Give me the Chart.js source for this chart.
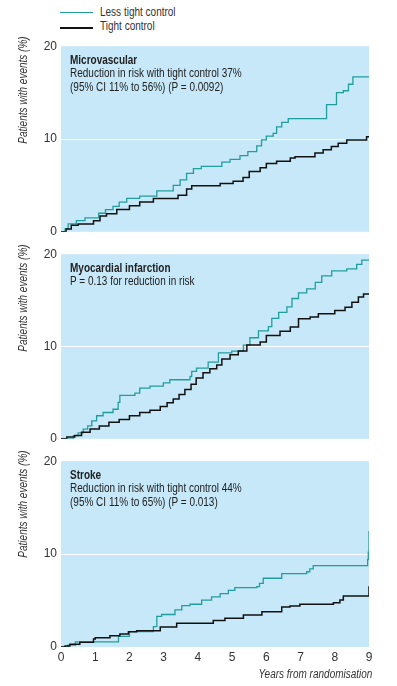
<!DOCTYPE html>
<html>
<head>
<meta charset="utf-8">
<script src="https://cdn.jsdelivr.net/npm/chart.js@4.4.1/dist/chart.umd.min.js"></script>
<style>
  html, body { margin:0; padding:0; background:#fff; }
  body { width:397px; height:686px; position:relative; overflow:hidden;
         font-family:"Liberation Sans",Arial,sans-serif; color:#222; }
  canvas { position:absolute; left:0; }
  .t { position:absolute; font-size:12.5px; line-height:13.4px; white-space:nowrap; color:#222;
       transform:scaleX(0.8); transform-origin:0 0; }
  .r { transform-origin:100% 0; }
  .b { font-weight:bold; }
  .yt { position:absolute; left:23px; font-size:12.5px; font-style:italic; white-space:nowrap; color:#333;
        transform:translate(-50%,-50%) rotate(-90deg) scaleX(0.8); }
  .lg { position:absolute; left:60px; width:33px; }
</style>
</head>
<body>
<div class="lg" style="top:12px;height:1.4px;background:#229d9d"></div>
<div class="t" style="left:100px;top:6px;color:#333">Less tight control</div>
<div class="lg" style="top:27px;height:1.6px;background:#111"></div>
<div class="t" style="left:100px;top:20px;color:#333">Tight control</div>

<canvas id="c1" width="397" height="208" style="top:35px;width:397px;height:208px"></canvas>
<canvas id="c2" width="397" height="207" style="top:243px;width:397px;height:207px"></canvas>
<canvas id="c3" width="397" height="236" style="top:450px;width:397px;height:236px"></canvas>

<div class="t" style="left:70px;top:54px"><span class="b">Microvascular</span><br>Reduction in risk with tight control 37%<br>(95% CI 11% to 56%) (P = 0.0092)</div>
<div class="t" style="left:70px;top:262px"><span class="b">Myocardial infarction</span><br>P = 0.13 for reduction in risk</div>
<div class="t" style="left:70px;top:469px"><span class="b">Stroke</span><br>Reduction in risk with tight control 44%<br>(95% CI 11% to 65%) (P = 0.013)</div>

<div class="yt" style="top:90px">Patients with events (%)</div>
<div class="yt" style="top:298px">Patients with events (%)</div>
<div class="yt" style="top:504px">Patients with events (%)</div>
<div class="t r" style="right:25px;top:668px;font-style:italic;color:#333">Years from randomisation</div>

<script>
// x ticks (years) and y ticks (%)
const yearTicks = [0,1,2,3,4,5,6,7,8,9];
const pctTicks = [0,10,20];

// [years, % with events]
const microLess = [[0,0],[0.12,0.3],[0.21,0.85],[0.45,1.2],[0.7,1.5],[1.1,2.0],[1.3,2.4],[1.52,2.75],[1.7,3.2],[1.92,3.6],[2.3,3.85],[2.8,4.4],[3.28,5.0],[3.48,5.6],[3.67,6.3],[3.87,6.8],[4.1,7.05],[4.7,7.5],[4.94,7.8],[5.23,8.2],[5.46,8.65],[5.72,9.25],[5.86,9.9],[6.0,10.3],[6.2,10.6],[6.3,11.3],[6.45,11.8],[6.64,12.2],[7.76,13.7],[8.05,15.0],[8.25,15.2],[8.4,15.9],[8.53,16.7],[9,16.7]];
const microTight = [[0,0],[0.15,0.3],[0.3,0.7],[0.5,0.85],[0.95,1.2],[1.14,1.7],[1.33,1.95],[1.63,2.4],[2.0,2.8],[2.3,3.2],[2.7,3.6],[3.42,3.95],[3.67,4.6],[3.82,4.95],[4.65,5.2],[5.03,5.45],[5.32,5.85],[5.5,6.5],[5.82,6.9],[6.0,7.35],[6.3,7.6],[6.7,7.95],[6.84,8.1],[7.42,8.5],[7.66,8.85],[7.9,9.2],[8.1,9.55],[8.35,9.9],[8.93,10.25],[9,10.25]];

const miLess = [[0,0],[0.36,0.35],[0.5,0.65],[0.65,1.05],[0.78,1.4],[0.9,1.95],[1.04,2.5],[1.23,2.85],[1.52,3.2],[1.67,3.95],[1.72,4.7],[2.16,4.95],[2.3,5.5],[2.6,5.7],[2.99,6.05],[3.18,6.4],[3.77,6.75],[3.82,7.3],[3.96,7.65],[4.3,8.3],[4.6,9.3],[4.99,9.5],[5.33,10.15],[5.52,10.95],[5.77,11.7],[6.06,12.15],[6.16,13.05],[6.36,13.7],[6.6,14.3],[6.75,15.2],[6.94,15.8],[7.18,16.25],[7.43,16.95],[7.62,17.65],[7.91,18.2],[8.35,18.4],[8.64,18.9],[8.79,19.35],[9,19.35]];
const miTight = [[0,0],[0.17,0.2],[0.4,0.35],[0.6,0.7],[0.85,1.05],[1.12,1.4],[1.4,1.8],[1.7,2.1],[2.0,2.5],[2.3,2.85],[2.6,3.1],[2.9,3.5],[3.1,3.9],[3.28,4.3],[3.45,4.8],[3.62,5.35],[3.8,5.9],[3.95,6.6],[4.15,7.15],[4.35,7.6],[4.55,8.0],[4.7,8.65],[4.94,9.1],[5.18,9.5],[5.43,10.15],[5.82,10.5],[6.0,11.2],[6.4,11.65],[6.7,12.1],[6.94,13.0],[7.28,13.2],[7.52,13.55],[8.0,13.9],[8.3,14.25],[8.5,14.8],[8.69,15.35],[8.84,15.7],[9,15.7]];

const strokeLess = [[0,0],[0.2,0.2],[0.42,0.55],[1.68,1.15],[2.0,1.65],[2.7,2.2],[2.8,3.3],[2.94,3.5],[3.33,4.0],[3.53,4.45],[3.77,4.6],[4.11,5.05],[4.4,5.4],[4.65,5.75],[4.89,6.1],[5.08,6.4],[5.72,6.5],[5.8,6.85],[5.91,7.4],[6.45,7.9],[7.18,8.1],[7.27,8.4],[7.37,8.75],[8.96,9.4],[8.98,10.2],[9,12.5]];
const strokeTight = [[0,0],[0.12,0.1],[0.26,0.3],[0.55,0.5],[0.95,0.85],[1.0,1.0],[1.43,1.2],[1.72,1.4],[1.97,1.65],[2.21,1.75],[2.9,2.15],[3.38,2.55],[4.45,2.85],[4.79,3.1],[5.33,3.45],[5.87,3.8],[6.45,4.3],[6.69,4.4],[6.98,4.6],[7.96,4.75],[8.15,5.05],[8.25,5.5],[9,6.55]];

Chart.defaults.font.family = '"Liberation Sans", Arial, sans-serif';
Chart.defaults.font.size = 12;
Chart.defaults.color = '#333';

const bg = { id:'bg', beforeDraw(chart){ const {ctx, chartArea:a} = chart; ctx.save(); ctx.fillStyle='#c6e8f8'; ctx.fillRect(a.left, a.top, a.right-a.left, a.bottom-a.top); ctx.restore(); } };
const toXY = arr => arr.map(p => ({x:p[0], y:p[1]}));

function panel(id, less, tight, showX, padBottom){
  new Chart(document.getElementById(id), {
    type:'line',
    data:{ datasets:[
      { label:'Tight control', data:toXY(tight), borderColor:'#111', borderWidth:1.5, stepped:true, pointRadius:0, fill:false, order:0 },
      { label:'Less tight control', data:toXY(less), borderColor:'#229d9d', borderWidth:1.3, stepped:true, pointRadius:0, fill:false, order:1 }
    ]},
    options:{
      responsive:false, animation:false, events:[],
      layout:{ autoPadding:false, padding:{ left:0, right:28, top:10, bottom:padBottom } },
      plugins:{ legend:{display:false}, tooltip:{enabled:false} },
      scales:{
        x:{ type:'linear', min:0, max:9, display:showX,
            afterBuildTicks(s){ s.ticks = yearTicks.map(v=>({value:v})); },
            afterFit(s){ s.height = showX ? 20 : 0; },
            grid:{ display:false, drawTicks:false }, border:{ display:false },
            ticks:{ padding:3, color:'#333', font:{size:12} } },
        y:{ type:'linear', min:0, max:20,
            afterBuildTicks(s){ s.ticks = pctTicks.map(v=>({value:v})); },
            afterFit(s){ s.width = 61; },
            grid:{ color:c => c.tick && c.tick.value===10 ? '#ffffff' : 'rgba(0,0,0,0)', lineWidth:1, drawTicks:false },
            border:{ display:false },
            ticks:{ padding:4, color:'#333', font:{size:12} } }
      }
    },
    plugins:[bg]
  });
}
panel('c1', microLess, microTight, false, 10);
panel('c2', miLess, miTight, false, 10);
panel('c3', strokeLess, strokeTight, true, 19);
</script>
</body>
</html>
